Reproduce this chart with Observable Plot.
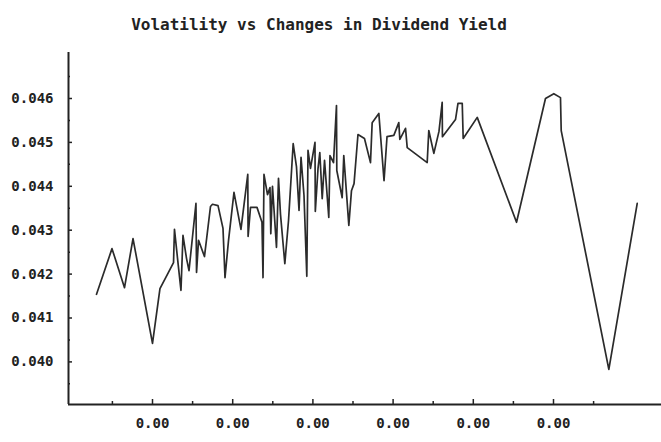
<!DOCTYPE html>
<html><head><meta charset="utf-8">
<script src="https://cdn.jsdelivr.net/npm/d3@7"></script>
<script src="https://cdn.jsdelivr.net/npm/@observablehq/plot@0.6"></script>
<style>body{margin:0;background:#fff}</style>
</head><body><div id="chart"></div>
<script>
const title = "Volatility vs Changes in Dividend Yield";

// Changes in dividend yield (x) and volatility (y)
const divYieldChange = [
  -0.002698, -0.002505, -0.002349, -0.002243, -0.002000, -0.001907, -0.001801, -0.001738,
  -0.001726, -0.001688, -0.001645, -0.001620, -0.001576, -0.001545, -0.001458, -0.001451,
  -0.001426, -0.001352, -0.001277, -0.001252, -0.001183, -0.001121, -0.001096, -0.001052,
  -0.000984, -0.000897, -0.000812, -0.000808, -0.000778, -0.000697, -0.000635, -0.000622,
  -0.000610, -0.000566, -0.000535, -0.000525, -0.000504, -0.000454, -0.000429, -0.000404,
  -0.000350, -0.000304, -0.000246, -0.000205, -0.000173, -0.000148, -0.000111, -0.000076,
  -0.000061, -0.000030, 0.000026, 0.000030, 0.000064, 0.000086, 0.000116, 0.000145,
  0.000198, 0.000213, 0.000257, 0.000294, 0.000298, 0.000365, 0.000385, 0.000448,
  0.000481, 0.000513, 0.000562, 0.000643, 0.000718, 0.000739, 0.000822, 0.000887,
  0.000924, 0.001009, 0.001071, 0.001084, 0.001155, 0.001176, 0.001425, 0.001445,
  0.001508, 0.001572, 0.001612, 0.001615, 0.001778, 0.001809, 0.001862, 0.001874,
  0.002049, 0.002539, 0.002900, 0.003004, 0.003087, 0.003096, 0.003690, 0.004044
];
const volatility = [
  0.04154, 0.04258, 0.04169, 0.04281, 0.04042, 0.04167, 0.04204, 0.04226,
  0.04302, 0.04236, 0.04163, 0.04288, 0.04236, 0.04208, 0.04361, 0.04204,
  0.04277, 0.04240, 0.04354, 0.04359, 0.04356, 0.04304, 0.04192, 0.04277,
  0.04386, 0.04302, 0.04427, 0.04286, 0.04352, 0.04352, 0.04318, 0.04192,
  0.04427, 0.04381, 0.04397, 0.04292, 0.04400, 0.04261, 0.04418, 0.04336,
  0.04224, 0.04322, 0.04497, 0.04445, 0.04345, 0.04466, 0.04379, 0.04195,
  0.04482, 0.04441, 0.04500, 0.04343, 0.04441, 0.04477, 0.04372, 0.04459,
  0.04329, 0.04470, 0.04454, 0.04584, 0.04436, 0.04374, 0.04470, 0.04311,
  0.04390, 0.04406, 0.04518, 0.04509, 0.04454, 0.04545, 0.04566, 0.04413,
  0.04513, 0.04516, 0.04545, 0.04507, 0.04532, 0.04488, 0.04454, 0.04527,
  0.04475, 0.04525, 0.04591, 0.04513, 0.04552, 0.04589, 0.04589, 0.04509,
  0.04557, 0.04318, 0.04600, 0.04611, 0.04602, 0.04527, 0.03983, 0.04361
];

const xTicks = [-0.002, -0.001, 0, 0.001, 0.002, 0.003];
const xMinorTicks = [-0.0025, -0.0015, -0.0005, 0.0005, 0.0015, 0.0025, 0.0035];
const yTicks = [0.040, 0.041, 0.042, 0.043, 0.044, 0.045, 0.046];
const yMinorTicks = [0.0395, 0.0405, 0.0415, 0.0425, 0.0435, 0.0445, 0.0455, 0.0465];
const xDomain = [-0.0030474, 0.0043466];
const yDomain = [0.0390296, 0.0470478];

const data = divYieldChange.map((x, i) => ({x, y: volatility[i]}));
const W = 661, H = 442, mL = 68, mR = 0, mT = 52, mB = 38;
const frameH = H - mT - mB, frameW = W - mL - mR;
const font = "'DejaVu Sans Mono', monospace";
const ink = "#222";

const chart = Plot.plot({
  width: W, height: H,
  marginLeft: mL, marginRight: mR, marginTop: mT, marginBottom: mB,
  style: {fontFamily: font, background: "#fff", color: ink, overflow: "visible"},
  x: {domain: xDomain, label: null},
  y: {domain: yDomain, label: null},
  marks: [
    Plot.axisX(xTicks, {tickSize: 0, tickPadding: 14, label: null, tickFormat: d3.format(".2f"), fontSize: 14, fontWeight: "bold"}),
    Plot.axisY(yTicks, {tickSize: 0, tickPadding: 15, label: null, tickFormat: d3.format(".3f"), fontSize: 14, fontWeight: "bold"}),
    Plot.tickX(xTicks, {x: d => d, insetTop: frameH - 5, stroke: ink, strokeWidth: 1.5}),
    Plot.tickX(xMinorTicks, {x: d => d, insetTop: frameH - 3, stroke: ink, strokeWidth: 1.5}),
    Plot.tickY(yTicks, {y: d => d, insetRight: frameW - 4, stroke: ink, strokeWidth: 1.5}),
    Plot.tickY(yMinorTicks, {y: d => d, insetRight: frameW - 2, stroke: ink, strokeWidth: 1.5}),
    Plot.ruleX([xDomain[0]], {stroke: ink, strokeWidth: 2}),
    Plot.ruleY([yDomain[0]], {stroke: ink, strokeWidth: 2}),
    Plot.line(data, {x: "x", y: "y", stroke: "#2b2b2b", strokeWidth: 1.7}),
    Plot.text([title], {text: d => d, frameAnchor: "top", dy: -34, dx: -46, fontSize: 16, fontWeight: "bold", fill: ink})
  ]
});
document.getElementById("chart").append(chart);
</script>
</body></html>
